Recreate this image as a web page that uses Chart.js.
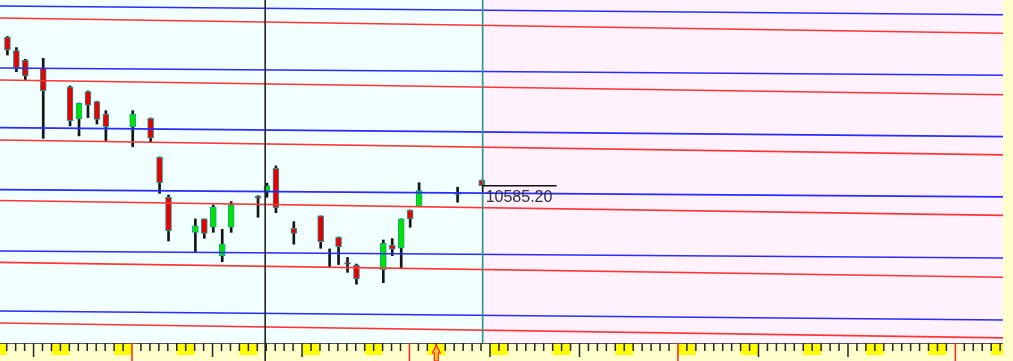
<!DOCTYPE html>
<html lang="en">
<head>
<meta charset="UTF-8">
<title>NIFTY daily candles</title>
<script src="https://cdn.jsdelivr.net/npm/chart.js"></script>
<style>
    html, body { margin: 0; padding: 0; background: #ffffcc; }
    #wrap { width: 1013px; height: 361px; }
</style>
</head>
<body>
<div id="wrap"><canvas id="chart" width="1013" height="361"></canvas></div>
<script>
// trading days, counted from 1 Oct 2018 (day 0)
const days   = [-14, -13, -12, -10, -7, -6, -5, -4, -3, 0, 2, 3, 4, 7, 8, 9, 10, 11, 14, 15, 16, 18, 21, 22, 23, 24, 25, 28, 29, 30, 31, 32, 36.3, 39];
const opens  = [11461, 11382, 11327, 11278, 11169, 10979, 11140, 11081, 11008, 10932, 10983, 10753, 10517, 10310, 10389, 10340, 10171, 10340, 10524, 10554, 10688, 10334, 10407, 10147, 10281, 10132, 10117, 10088, 10235, 10216, 10442, 10461, 10548, 10617];
const highs  = [11466, 11400, 11331, 11337, 11174, 11073, 11144, 11082, 11028, 11028, 10985, 10755, 10530, 10389, 10389, 10471, 10328, 10491, 10526, 10600, 10702, 10373, 10407, 10212, 10283, 10162, 10123, 10265, 10273, 10389, 10442, 10603, 10576, 10619];
const lows   = [11356, 11258, 11209, 10865, 10938, 10879, 10987, 10949, 10845, 10815, 10839, 10540, 10259, 10192, 10275, 10310, 10137, 10310, 10399, 10517, 10426, 10240, 10216, 10104, 10120, 10074, 10004, 10013, 10172, 10098, 10340, 10461, 10488, 10585.2];
const closes = [11386, 11278, 11233, 11146, 10969, 11071, 11060, 10977, 10933, 11008, 10865, 10603, 10320, 10348, 10304, 10461, 10240, 10471, 10512, 10584, 10456, 10304, 10255, 10147, 10225, 10122, 10035, 10245, 10210, 10389, 10389, 10556, 10534, 10585.2];

// sloping level lines: price at left edge and right edge
const blueLeft  = [11646, 11280, 10928, 10562, 10200, 9846];
const blueRight = [11594, 11237, 10875, 10519, 10159, 9793];
const redLeft   = [11575, 11209, 10855, 10498, 10133, 9775];
const redRight  = [11485, 11122, 10767, 10410, 10045, 9687];

// vertical markers: black cursor line, teal "today" line
const markerDays = [14.8, 39.1];
const arrowDays = [34];

const xMin = -14.83, xMax = 97.24;
const yMin = 9657, yMax = 11681;
const tickShift = -0.08;

const levelSets = [];
blueLeft.forEach((v, i) => levelSets.push({
    type: 'line', order: 0, borderColor: '#2a2aff', borderWidth: 1.6, pointRadius: 0,
    data: [{x: xMin, y: v}, {x: xMax, y: blueRight[i]}]
}));
redLeft.forEach((v, i) => levelSets.push({
    type: 'line', order: 0, borderColor: '#ff3535', borderWidth: 1.6, pointRadius: 0,
    data: [{x: xMin, y: v}, {x: xMax, y: redRight[i]}]
}));

// background, ruler strip, markers and price tag
const paper = {
    id: 'paper',
    beforeDraw(chart) {
        const {ctx, chartArea: a, scales: {x}} = chart;
        ctx.save();
        ctx.fillStyle = '#ffffcc';
        ctx.fillRect(0, 0, chart.width, chart.height);
        const split = x.getPixelForValue(markerDays[1]);
        ctx.fillStyle = '#f2ffff';
        ctx.fillRect(a.left, a.top, split - a.left, a.bottom - a.top);
        ctx.fillStyle = '#fff2fd';
        ctx.fillRect(split, a.top, a.right - split, a.bottom - a.top);

        const y0 = a.bottom;
        // weekends
        for (let d = Math.floor(xMin) - 1; d <= Math.ceil(xMax); d++) {
            const date = new Date(2018, 9, 1 + d);
            if (date.getDay() !== 6) continue;
            const p = Math.max(a.left, x.getPixelForValue(d + tickShift));
            const q = Math.min(a.right, x.getPixelForValue(d + 2 + tickShift));
            if (q <= p) continue;
            ctx.fillStyle = '#ffff00';
            ctx.fillRect(p, y0, q - p, 12);
        }
        ctx.strokeStyle = '#555';
        ctx.lineWidth = 1;
        ctx.beginPath();
        ctx.moveTo(a.left, y0 + 0.5);
        ctx.lineTo(a.right, y0 + 0.5);
        ctx.stroke();
        // day ticks
        for (let d = Math.floor(xMin); d <= Math.ceil(xMax); d++) {
            const p = x.getPixelForValue(d + tickShift);
            if (p < a.left + 1 || p > a.right) continue;
            const date = new Date(2018, 9, 1 + d);
            const dn = date.getDate();
            let len = 8, col = '#222';
            if (dn === 1) { len = chart.height - y0; col = '#ff2020'; }
            else if (dn === 10 || dn === 20) { len = 14; }
            ctx.strokeStyle = col;
            ctx.lineWidth = 1.5;
            ctx.beginPath();
            ctx.moveTo(p, y0);
            ctx.lineTo(p, y0 + len);
            ctx.stroke();
        }
        // event arrow
        arrowDays.forEach(d => {
            const p = x.getPixelForValue(d + tickShift);
            ctx.beginPath();
            ctx.moveTo(p, y0 + 2);
            ctx.lineTo(p - 4, y0 + 10);
            ctx.lineTo(p - 2, y0 + 10);
            ctx.lineTo(p - 2, chart.height);
            ctx.lineTo(p + 2, chart.height);
            ctx.lineTo(p + 2, y0 + 10);
            ctx.lineTo(p + 4, y0 + 10);
            ctx.closePath();
            ctx.fillStyle = '#ffcc33';
            ctx.fill();
            ctx.strokeStyle = '#ff2020';
            ctx.lineWidth = 1.2;
            ctx.stroke();
        });
        ctx.restore();
    },
    afterDatasetsDraw(chart) {
        const {ctx, chartArea: a, scales: {x, y}} = chart;
        ctx.save();
        const xc = x.getPixelForValue(markerDays[0]);
        ctx.strokeStyle = '#222';
        ctx.lineWidth = 1.6;
        ctx.beginPath();
        ctx.moveTo(xc, 0);
        ctx.lineTo(xc, chart.height);
        ctx.stroke();

        const xt = x.getPixelForValue(markerDays[1]);
        ctx.strokeStyle = '#2a9090';
        ctx.lineWidth = 1.6;
        ctx.beginPath();
        ctx.moveTo(xt, a.top);
        ctx.lineTo(xt, a.bottom);
        ctx.stroke();

        const last = closes.length - 1;
        const yc = y.getPixelForValue(closes[last]);
        ctx.strokeStyle = '#111';
        ctx.lineWidth = 1.4;
        ctx.beginPath();
        ctx.moveTo(xt, yc + 7);
        ctx.lineTo(xt, yc);
        ctx.lineTo(xt + 74, yc);
        ctx.stroke();
        ctx.fillStyle = '#30303c';
        ctx.font = '16px "Liberation Sans", Arial, sans-serif';
        ctx.textBaseline = 'alphabetic';
        ctx.fillText(closes[last].toFixed(2), xt + 3, yc + 16);
        ctx.restore();
    }
};

const bodyColor = (c) => {
    const i = c.dataIndex;
    return closes[i] >= opens[i] ? '#00e400' : '#e60000';
};

new Chart(document.getElementById('chart'), {
    type: 'bar',
    data: {
        datasets: [
            ...levelSets,
            {
                label: 'body', order: 1, grouped: false,
                data: days.map((d, i) => ({x: d, y: [opens[i], closes[i]]})),
                backgroundColor: bodyColor,
                borderColor: '#1e9c9c',
                borderWidth: 1,
                borderSkipped: false,
                barThickness: 6
            },
            {
                label: 'wick', order: 2, grouped: false,
                data: days.map((d, i) => ({x: d, y: [lows[i], highs[i]]})),
                backgroundColor: '#151515',
                borderWidth: 0,
                barThickness: 2
            }
        ]
    },
    options: {
        responsive: false,
        animation: false,
        devicePixelRatio: 1,
        layout: { padding: { left: 0, right: 10, top: 0, bottom: 18 } },
        scales: {
            x: { type: 'linear', min: xMin, max: xMax, offset: false, display: false },
            y: { type: 'linear', min: yMin, max: yMax, display: false }
        },
        plugins: {
            legend: { display: false },
            tooltip: { enabled: false }
        }
    },
    plugins: [paper]
});
</script>
</body>
</html>
